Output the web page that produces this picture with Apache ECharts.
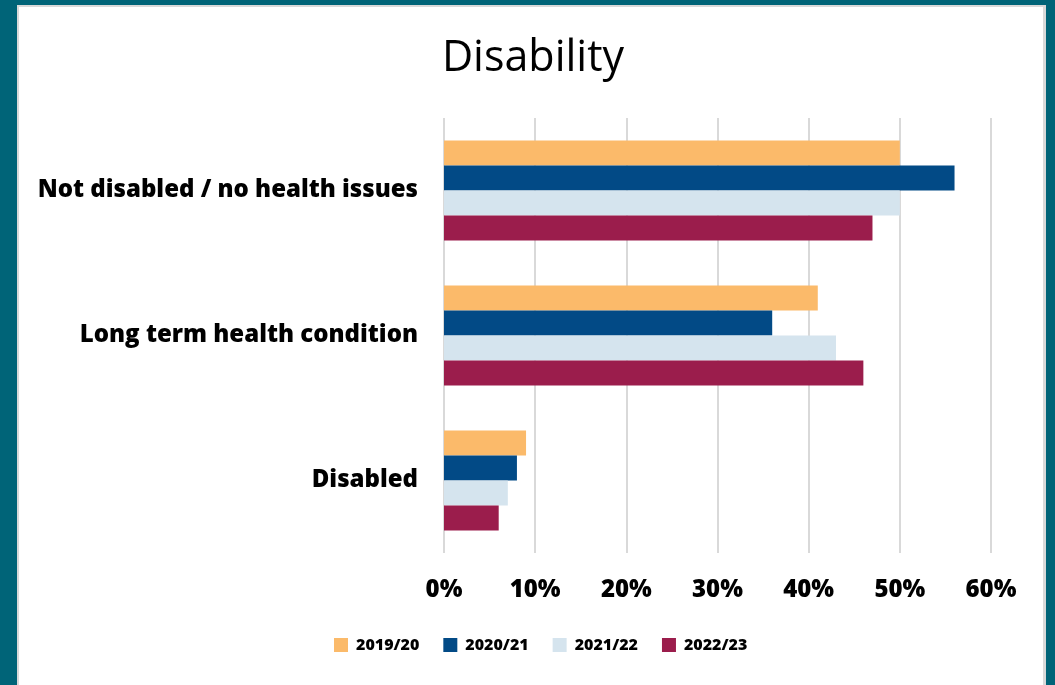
<!DOCTYPE html>
<html><head><meta charset="utf-8">
<script src="https://cdn.jsdelivr.net/npm/echarts@6/dist/echarts.min.js"></script>
<style>
html,body{margin:0;padding:0;width:1055px;height:685px;background:#006478;overflow:hidden}
#panel{position:absolute;left:17px;top:5px;width:1029px;height:685px;background:#fff;border-left:2px solid #d9d9d9;border-top:2px solid #d9d9d9;border-right:3px solid #d9d9d9;box-sizing:border-box}
#chart{position:absolute;left:0;top:0;width:1055px;height:685px}
</style></head>
<body><div id="panel"></div><div id="chart"></div>
<script>
const categories = ['Not disabled / no health issues','Long term health condition','Disabled'];
const seriesNames = ['2019/20','2020/21','2021/22','2022/23'];
const v2019 = [50, 41, 9];
const v2020 = [56, 36, 8];
const v2021 = [50, 43, 7];
const v2022 = [47, 46, 6];
const tickLabels = ['0%','10%','20%','30%','40%','50%','60%'];
const colors = ['#FBBA6A','#024A86','#D5E4EE','#9B1D4C'];
const values = [v2019, v2020, v2021, v2022];

const chart = echarts.init(document.getElementById('chart'), null, {renderer:'canvas'});
const font = '"Open Sans", "Noto Sans", sans-serif';
chart.setOption({
  backgroundColor: 'transparent',
  animation: false,
  title: {text:'Disability', left: 528, textAlign:'center', top: 32,
    textStyle:{fontFamily:font, fontSize:43, fontWeight:'normal', color:'#000'}},
  legend: {data: seriesNames, bottom: 27, left: 329, itemWidth:14, itemHeight:14, itemGap: 24,
    icon:'rect', textStyle:{fontFamily:font, fontSize:16, fontWeight:800, color:'#000', padding:[0,0,0,3]}},
  grid: {left:444, right:64, top:118, bottom:132, containLabel:false},
  xAxis: {type:'value', min:0, max:60, interval:10,
    axisLine:{show:false}, axisTick:{show:false},
    splitLine:{lineStyle:{color:'#d9d9d9', width:2}},
    axisLabel:{margin:25, fontFamily:font, fontSize:24, fontWeight:800, color:'#000',
      formatter: (v)=> tickLabels[Math.round(v/10)]}},
  yAxis: {type:'category', data: categories, inverse:true,
    axisLine:{show:false}, axisTick:{show:false},
    axisLabel:{margin:26, fontFamily:font, fontSize:24, fontWeight:800, color:'#000', padding:[6,0,0,0]}},
  series: seriesNames.map((n,i)=>({
    name:n, type:'bar', data: values[i], barGap:'0%', barCategoryGap:'31%',
    itemStyle:{color:colors[i]}
  }))
});
</script></body></html>
